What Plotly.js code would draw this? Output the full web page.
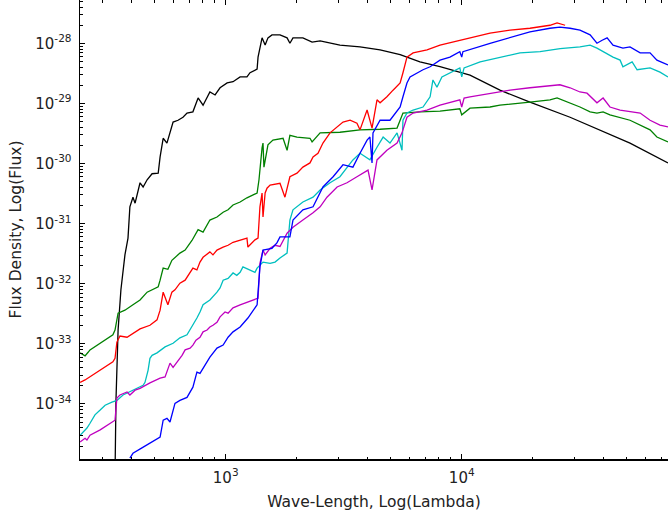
<!DOCTYPE html>
<html>
<head>
<meta charset="utf-8">
<script src="https://cdn.plot.ly/plotly-3.0.1.min.js"></script>
<style>
html, body { margin: 0; padding: 0; background: #fff; overflow: hidden; }
#chart { width: 668px; height: 518px; }
</style>
</head>
<body>
<div id="chart"></div>
<script>
// Values: log10(wavelength, Å) and log10(flux)
const logLamBlack = [2.530,2.531,2.535,2.544,2.556,2.573,2.586,2.594,2.607,2.616,2.637,2.650,2.667,2.688,2.714,2.722,2.735,2.751,2.764,2.777,2.798,2.819,2.836,2.861,2.883,2.904,2.933,2.955,2.976,3.006,3.031,3.061,3.090,3.103,3.133,3.137,3.154,3.167,3.179,3.196,3.230,3.260,3.272,3.285,3.327,3.366,3.400,3.484,3.569,3.654,3.739,3.823,3.908,3.992,4.035,4.162,4.289,4.459,4.586,4.713,4.874];
const logFluxBlack = [-35.5,-34.92,-33.94,-32.77,-32.10,-31.52,-31.24,-30.72,-30.56,-30.66,-30.32,-30.39,-30.27,-30.17,-30.16,-29.89,-29.58,-29.66,-29.49,-29.31,-29.28,-29.23,-29.16,-29.14,-28.91,-29.03,-28.81,-28.86,-28.74,-28.66,-28.64,-28.56,-28.56,-28.49,-28.43,-28.23,-27.91,-28.03,-27.91,-27.86,-27.86,-27.91,-28.00,-27.91,-27.91,-27.98,-27.96,-28.03,-28.06,-28.11,-28.19,-28.31,-28.39,-28.49,-28.53,-28.78,-28.98,-29.23,-29.44,-29.66,-29.99];

const logLamGreen = [2.383,2.404,2.417,2.425,2.522,2.531,2.544,2.573,2.607,2.637,2.667,2.714,2.722,2.735,2.755,2.772,2.806,2.828,2.857,2.883,2.904,2.933,2.963,2.989,3.010,3.031,3.061,3.090,3.133,3.141,3.154,3.158,3.162,3.179,3.200,3.243,3.260,3.272,3.302,3.357,3.366,3.400,3.484,3.569,3.654,3.726,3.751,3.823,3.908,3.992,4.000,4.035,4.120,4.162,4.289,4.374,4.404,4.501,4.544,4.573,4.599,4.628,4.713,4.798,4.827,4.874];
const logFluxGreen = [-33.15,-33.20,-33.14,-33.10,-32.85,-32.77,-32.49,-32.44,-32.35,-32.27,-32.14,-32.05,-31.94,-31.74,-31.76,-31.61,-31.49,-31.44,-31.28,-31.10,-31.14,-30.94,-30.89,-30.81,-30.77,-30.69,-30.64,-30.57,-30.49,-30.27,-29.74,-29.66,-30.06,-29.69,-29.61,-29.58,-29.78,-29.53,-29.56,-29.58,-29.64,-29.49,-29.48,-29.44,-29.43,-29.41,-29.16,-29.14,-29.13,-29.09,-29.19,-29.08,-29.06,-29.03,-28.98,-28.94,-28.91,-29.06,-29.14,-29.16,-29.14,-29.19,-29.28,-29.44,-29.56,-29.64];

const logLamRed = [2.383,2.404,2.522,2.531,2.539,2.552,2.582,2.607,2.637,2.679,2.709,2.722,2.735,2.755,2.772,2.785,2.806,2.828,2.849,2.861,2.878,2.891,2.904,2.933,2.946,2.963,2.989,3.010,3.031,3.090,3.094,3.124,3.137,3.145,3.154,3.158,3.167,3.175,3.188,3.230,3.251,3.272,3.302,3.327,3.357,3.370,3.391,3.412,3.442,3.472,3.497,3.527,3.556,3.569,3.599,3.620,3.641,3.654,3.683,3.709,3.739,3.751,3.768,3.794,3.853,3.908,3.992,4.120,4.205,4.289,4.374,4.404,4.438];
const logFluxRed = [-33.64,-33.60,-33.30,-33.24,-32.97,-32.87,-32.89,-32.82,-32.75,-32.69,-32.60,-32.44,-32.14,-32.35,-32.14,-32.10,-31.99,-31.94,-31.82,-31.74,-31.77,-31.64,-31.56,-31.47,-31.52,-31.44,-31.39,-31.36,-31.31,-31.24,-31.39,-31.27,-31.24,-30.72,-30.49,-30.89,-30.49,-30.41,-30.36,-30.33,-30.56,-30.22,-30.16,-30.06,-29.99,-29.89,-29.83,-29.66,-29.49,-29.39,-29.31,-29.28,-29.33,-29.44,-29.11,-29.41,-28.94,-28.99,-28.89,-28.78,-28.66,-28.49,-28.23,-28.16,-28.11,-28.03,-27.95,-27.83,-27.78,-27.75,-27.70,-27.66,-27.70];

const logLamCyan = [2.383,2.412,2.425,2.446,2.468,2.489,2.518,2.539,2.565,2.594,2.624,2.650,2.658,2.671,2.679,2.688,2.709,2.743,2.777,2.806,2.836,2.857,2.878,2.891,2.904,2.933,2.946,2.963,2.976,2.989,3.010,3.031,3.047,3.061,3.073,3.103,3.124,3.133,3.145,3.158,3.188,3.209,3.230,3.260,3.272,3.285,3.327,3.370,3.400,3.442,3.484,3.514,3.539,3.569,3.611,3.641,3.667,3.696,3.726,3.747,3.751,3.768,3.794,3.836,3.866,3.878,3.895,3.916,3.950,3.992,4.000,4.010,4.078,4.162,4.247,4.332,4.417,4.501,4.544,4.573,4.599,4.641,4.671,4.683,4.722,4.743,4.798,4.840,4.874];
const logFluxCyan = [-34.52,-34.40,-34.32,-34.18,-34.10,-34.02,-33.97,-33.94,-33.85,-33.80,-33.74,-33.69,-33.64,-33.44,-33.24,-33.19,-33.15,-33.05,-32.99,-32.90,-32.85,-32.72,-32.57,-32.47,-32.35,-32.27,-32.22,-32.14,-32.07,-31.94,-31.91,-31.82,-31.86,-31.81,-31.72,-31.77,-31.81,-31.74,-31.69,-31.64,-31.66,-31.64,-31.57,-31.49,-30.94,-30.77,-30.64,-30.56,-30.44,-30.32,-30.22,-30.06,-29.94,-29.83,-29.94,-29.73,-29.56,-29.66,-29.49,-29.78,-29.28,-29.16,-29.11,-29.06,-28.89,-28.61,-28.73,-28.56,-28.49,-28.41,-28.56,-28.41,-28.31,-28.23,-28.16,-28.14,-28.09,-28.06,-28.03,-28.08,-28.14,-28.23,-28.28,-28.39,-28.31,-28.44,-28.41,-28.48,-28.56];

const logLamMagenta = [2.383,2.404,2.412,2.425,2.468,2.522,2.531,2.539,2.552,2.582,2.594,2.616,2.637,2.679,2.722,2.743,2.755,2.764,2.777,2.794,2.815,2.828,2.849,2.861,2.874,2.891,2.904,2.921,2.933,2.946,2.963,2.976,2.997,3.010,3.031,3.061,3.082,3.103,3.124,3.137,3.145,3.158,3.167,3.188,3.209,3.230,3.260,3.285,3.327,3.370,3.400,3.429,3.472,3.514,3.556,3.603,3.620,3.641,3.683,3.726,3.747,3.768,3.794,3.853,3.908,3.992,4.000,4.010,4.035,4.120,4.205,4.289,4.374,4.416,4.459,4.501,4.531,4.573,4.599,4.628,4.671,4.713,4.756,4.798,4.840,4.874];
const logFluxMagenta = [-34.63,-34.57,-34.60,-34.52,-34.43,-34.30,-34.27,-33.90,-33.85,-33.80,-33.85,-33.77,-33.74,-33.65,-33.57,-33.55,-33.40,-33.32,-33.39,-33.30,-33.19,-33.10,-33.07,-33.02,-32.94,-32.89,-32.80,-32.77,-32.72,-32.69,-32.64,-32.55,-32.47,-32.49,-32.40,-32.35,-32.32,-32.30,-32.27,-32.24,-31.66,-31.44,-31.52,-31.41,-31.36,-31.38,-31.16,-31.06,-30.94,-30.82,-30.72,-30.56,-30.39,-30.32,-30.22,-30.11,-30.44,-29.94,-29.78,-29.66,-29.49,-29.23,-29.16,-29.11,-29.03,-28.94,-29.06,-28.91,-28.89,-28.83,-28.78,-28.74,-28.71,-28.69,-28.74,-28.81,-28.83,-28.99,-28.91,-29.06,-29.11,-29.14,-29.16,-29.28,-29.36,-29.39];

const logLamBlue = [2.594,2.607,2.645,2.679,2.722,2.735,2.751,2.764,2.785,2.806,2.836,2.861,2.878,2.891,2.912,2.933,2.963,2.989,3.010,3.031,3.061,3.094,3.133,3.145,3.158,3.196,3.217,3.230,3.272,3.285,3.327,3.370,3.412,3.455,3.497,3.539,3.569,3.599,3.611,3.620,3.624,3.654,3.696,3.739,3.751,3.768,3.781,3.811,3.836,3.866,3.908,3.950,3.992,4.000,4.005,4.120,4.205,4.289,4.374,4.416,4.459,4.501,4.544,4.573,4.595,4.616,4.641,4.683,4.713,4.756,4.798,4.827,4.874];
const logFluxBlue = [-34.90,-34.82,-34.73,-34.65,-34.55,-34.27,-34.24,-34.30,-33.99,-33.94,-33.89,-33.72,-33.47,-33.49,-33.35,-33.22,-33.07,-33.02,-32.89,-32.80,-32.72,-32.57,-32.35,-31.72,-31.44,-31.41,-31.32,-31.22,-31.22,-30.94,-30.77,-30.72,-30.39,-30.22,-30.02,-30.06,-29.83,-29.61,-29.56,-29.99,-29.49,-29.28,-29.28,-29.06,-28.89,-28.66,-28.56,-28.49,-28.44,-28.39,-28.28,-28.23,-28.14,-28.23,-28.14,-28.00,-27.90,-27.81,-27.75,-27.73,-27.75,-27.78,-27.86,-28.00,-27.95,-27.91,-28.03,-28.08,-28.06,-28.16,-28.16,-28.28,-28.36];

// Tick values and labels
const xTickVals = [1e3, 1e4];
const xTickText = ['10<sup>3</sup>', '10<sup>4</sup>'];
const yTickVals = [1e-34, 1e-33, 1e-32, 1e-31, 1e-30, 1e-29, 1e-28];
const yTickText = ['10<sup>-34</sup>', '10<sup>-33</sup>', '10<sup>-32</sup>', '10<sup>-31</sup>', '10<sup>-30</sup>', '10<sup>-29</sup>', '10<sup>-28</sup>'];

const pow10 = a => a.map(v => Math.pow(10, v));

const series = [
  {lam: logLamBlack,   flux: logFluxBlack,   color: '#000000'},
  {lam: logLamGreen,   flux: logFluxGreen,   color: '#008000'},
  {lam: logLamRed,     flux: logFluxRed,     color: '#ff0000'},
  {lam: logLamCyan,    flux: logFluxCyan,    color: '#00bfbf'},
  {lam: logLamMagenta, flux: logFluxMagenta, color: '#bf00bf'},
  {lam: logLamBlue,    flux: logFluxBlue,    color: '#0000ff'}
];

const traces = series.map(s => ({
  x: pow10(s.lam),
  y: pow10(s.flux),
  type: 'scatter',
  mode: 'lines',
  line: {color: s.color, width: 1.3},
  showlegend: false,
  hoverinfo: 'skip'
}));

const font = 'DejaVu Sans, Bitstream Vera Sans, sans-serif';

const layout = {
  width: 668,
  height: 518,
  margin: {l: 80, r: 0, t: 0, b: 59},
  paper_bgcolor: '#ffffff',
  plot_bgcolor: '#ffffff',
  font: {family: font, color: '#000', size: 15},
  showlegend: false,
  xaxis: {
    type: 'log',
    range: [2.3826, 4.874],
    tickmode: 'array',
    tickvals: xTickVals,
    ticktext: xTickText,
    showgrid: false,
    zeroline: false,
    showline: true,
    linecolor: '#000',
    linewidth: 1.5,
    mirror: 'allticks',
    ticks: 'inside',
    ticklen: 5,
    tickwidth: 1,
    tickcolor: '#000',
    ticklabelstandoff: 4,
    minor: {ticks: 'inside', ticklen: 2.5, tickwidth: 1, tickcolor: '#000', showgrid: false, dtick: 'D1'},
    tickfont: {family: font, size: 15, color: '#222'},
    title: {text: 'Wave-Length, Log(Lambda)', font: {family: font, size: 15.5, color: '#222'}, standoff: 10}
  },
  yaxis: {
    type: 'log',
    range: [-34.915, -27.28],
    tickmode: 'array',
    tickvals: yTickVals,
    ticktext: yTickText,
    showgrid: false,
    zeroline: false,
    showline: true,
    linecolor: '#000',
    linewidth: 1.5,
    mirror: false,
    ticks: 'inside',
    ticklen: 5,
    tickwidth: 1,
    tickcolor: '#000',
    ticklabelstandoff: 4,
    minor: {ticks: 'inside', ticklen: 2.5, tickwidth: 1, tickcolor: '#000', showgrid: false, dtick: 'D1'},
    tickfont: {family: font, size: 15, color: '#222'},
    title: {text: 'Flux Density, Log(Flux)', font: {family: font, size: 15.5, color: '#222'}, standoff: 10}
  }
};

Plotly.newPlot('chart', traces, layout, {staticPlot: true, displayModeBar: false});
</script>
</body>
</html>
